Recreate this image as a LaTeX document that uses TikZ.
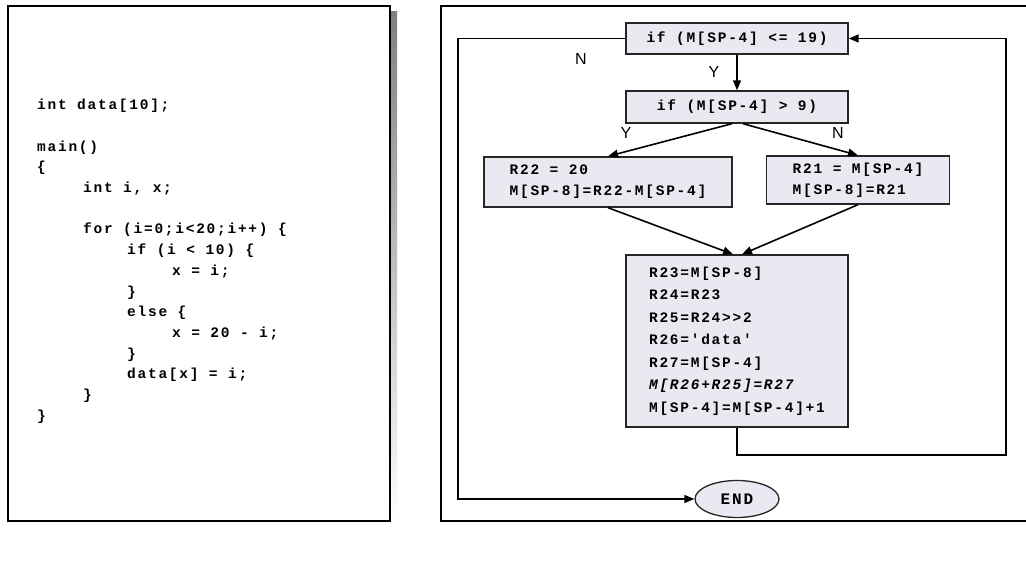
\documentclass[tikz,border=0pt]{standalone}
\usepackage{fontspec}
\setsansfont{Liberation Sans}
\newfontfamily\codefont[LetterSpace=12]{Liberation Mono Bold}
\usetikzlibrary{positioning,shapes.geometric,arrows.meta}

\definecolor{boxfill}{HTML}{E9E9F1}
\definecolor{shade}{HTML}{3C3C3C}

\tikzset{
  block/.style={draw=black!85, line width=1.4pt, fill=boxfill, inner sep=0pt,
    align=left, font=\codefont\fontsize{14.5}{21}\selectfont},
  flow/.style={line width=1.6pt, -{Triangle[length=10pt,width=8pt]}},
  yn/.style={font=\sffamily\fontsize{16}{16}\selectfont}
}

\begin{document}
\begin{tikzpicture}[x=1pt,y=-1pt]
\useasboundingbox (0,0) rectangle (1026,561);

% source listing
\fill[shade] (391,12) rectangle (397,522);
\draw[line width=1.6pt, fill=white] (8,6) rectangle (390,521);
\node[anchor=north west, inner sep=0pt, align=left,
      font=\codefont\fontsize{14.5}{20.7}\selectfont] (src) at (37,99) {%
int data[10];\\[20.7pt]
main()\\
\{\\
\hspace*{46pt}int i, x;\\[20.7pt]
\hspace*{46pt}for (i=0;i<20;i++) \{\\
\hspace*{90pt}if (i < 10) \{\\
\hspace*{135pt}x = i;\\
\hspace*{90pt}\}\\
\hspace*{90pt}else \{\\
\hspace*{135pt}x = 20 - i;\\
\hspace*{90pt}\}\\
\hspace*{90pt}data[x] = i;\\
\hspace*{46pt}\}\\
\}};

% control flow graph
\draw[line width=1.6pt] (1026,6) -- (441,6) -- (441,521) -- (1026,521);

\node[block, minimum width=222pt, minimum height=31pt] (test) at (737,38.5) {if (M[SP-4] <= 19)};
\node[block, minimum width=222pt, minimum height=32pt] (split) at (737,107) {if (M[SP-4] > 9)};
\node[block, minimum width=248pt, minimum height=50pt] (high) at (608,182) {R22 = 20\\M[SP-8]=R22-M[SP-4]};
\node[block, minimum width=183pt, minimum height=48pt] (low) at (858,180) {R21 = M[SP-4]\\M[SP-8]=R21};
\node[block, minimum width=222pt, minimum height=172pt] (body) at (737,341) {%
R23=M[SP-8]\\[1.5pt]
R24=R23\\[1.5pt]
R25=R24>>2\\[1.5pt]
R26='data'\\[1.5pt]
R27=M[SP-4]\\[1.5pt]
{\itshape M[R26+R25]=R27}\\[1.5pt]
M[SP-4]=M[SP-4]+1};
\node[ellipse, draw=black!85, line width=1.3pt, fill=boxfill, minimum width=84pt, minimum height=37pt,
      inner sep=0pt, font=\codefont\fontsize{16}{16}\selectfont] (stop) at (737,499) {END};

\coordinate (back) at (1006,455);
\coordinate (out) at (458,499);

\draw[flow] (test) -- (split);
\draw[flow] ([xshift=-5pt]split.south) -- (high.north);
\draw[flow] ([xshift=6pt]split.south) -- (low.north);
\draw[flow] (high.south) -- ([xshift=-4pt]body.north);
\draw[flow] (low.south) -- ([xshift=5pt]body.north);
\draw[flow] (body.south) |- (back) |- (test.east);
\draw[flow] (test.west) -| (out) -- (stop.west);

\node[yn] (no1) at (581,59) {N};
\node[yn] (yes1) at (714,72) {Y};
\node[yn] (yes2) at (626,133) {Y};
\node[yn] (no2) at (838,133) {N};
\end{tikzpicture}
\end{document}
